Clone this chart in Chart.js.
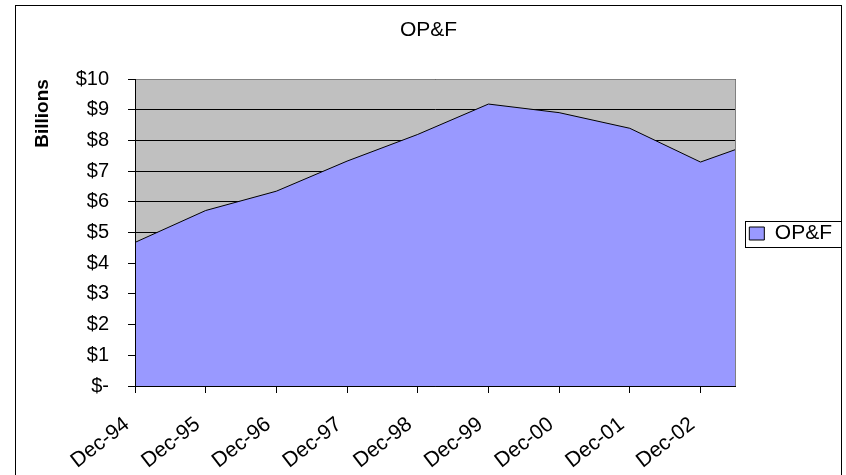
<!DOCTYPE html>
<html><head><meta charset="utf-8">
<script src="https://cdn.jsdelivr.net/npm/chart.js@4"></script>
<style>html,body{margin:0;padding:0;background:#fff;}#wrap{width:846px;height:475px;position:relative;}</style>
</head><body><div id="wrap"><canvas id="c"></canvas></div>
<script>
const chartTitle = 'OP&F';
const seriesName = 'OP&F';
const dateLabels = ['Dec-94','Dec-95','Dec-96','Dec-97','Dec-98','Dec-99','Dec-00','Dec-01','Dec-02','Jun-03'];
const values = [4.68, 5.72, 6.35, 7.33, 8.20, 9.19, 8.91, 8.40, 7.30, 7.71];
const xTickLabels = ['Dec-94','Dec-95','Dec-96','Dec-97','Dec-98','Dec-99','Dec-00','Dec-01','Dec-02'];
const yTickValues = [0,1,2,3,4,5,6,7,8,9,10];
const yTickLabels = ['$-','$1','$2','$3','$4','$5','$6','$7','$8','$9','$10'];
const yAxisTitle = 'Billions';

const MONTHS = ['Jan','Feb','Mar','Apr','May','Jun','Jul','Aug','Sep','Oct','Nov','Dec'];
function monthIndex(lbl){
  const parts = lbl.split('-');
  let yr = parseInt(parts[1], 10);
  yr += yr < 50 ? 2000 : 1900;
  return yr * 12 + MONTHS.indexOf(parts[0]);
}
const base = monthIndex(dateLabels[0]);
const points = dateLabels.map((l, i) => ({x: monthIndex(l) - base, y: values[i]}));
const xTickPos = xTickLabels.map(l => monthIndex(l) - base);

const FONT = 'Liberation Sans, Arial, sans-serif';

const decor = {
  id: 'decor',
  afterLayout(chart) {
    const lg = chart.legend;
    if (lg) { lg.top -= 4; lg.bottom -= 4; }
  },
  beforeDraw(chart) {
    const {ctx, chartArea: a} = chart;
    ctx.save();
    ctx.fillStyle = '#C0C0C0';
    ctx.fillRect(a.left, a.top, a.right - a.left, a.bottom - a.top);
    ctx.restore();
  },
  afterDraw(chart) {
    const {ctx, chartArea: a} = chart;
    ctx.save();
    ctx.lineWidth = 1;
    ctx.strokeStyle = '#808080';
    ctx.beginPath();
    ctx.moveTo(Math.round(a.left) + 0.5, Math.round(a.top) + 0.5);
    ctx.lineTo(Math.round(a.right) - 0.5, Math.round(a.top) + 0.5);
    ctx.lineTo(Math.round(a.right) - 0.5, Math.round(a.bottom) + 0.5);
    ctx.stroke();
    ctx.strokeStyle = '#000';
    ctx.beginPath();
    ctx.moveTo(Math.round(a.left) + 0.5, Math.round(a.top));
    ctx.lineTo(Math.round(a.left) + 0.5, Math.round(a.bottom) + 0.5);
    ctx.lineTo(Math.round(a.right), Math.round(a.bottom) + 0.5);
    ctx.stroke();
    ctx.strokeRect(15.5, 5.5, 826, 500);
    const lg = chart.legend;
    if (lg && lg.legendHitBoxes && lg.legendHitBoxes.length) {
      const h = lg.legendHitBoxes[0];
      const cy = h.top + h.height / 2;
      const l = Math.round(h.left) - 3.5;
      const r = Math.round(h.left + h.width) + 9.5;
      ctx.strokeRect(l, Math.round(cy) - 12.5, r - l, 26);
    }
    ctx.restore();
  }
};

new Chart(document.getElementById('c'), {
  type: 'line',
  data: {
    datasets: [{
      label: seriesName,
      data: points,
      backgroundColor: '#9999FF',
      borderColor: '#000000',
      borderWidth: 1,
      fill: 'origin',
      pointRadius: 0,
      tension: 0
    }]
  },
  options: {
    responsive: true,
    maintainAspectRatio: false,
    animation: false,
    events: [],
    layout: { padding: { left: 15, top: 0, right: 4, bottom: 0 } },
    plugins: {
      title: {
        display: true, text: chartTitle, color: '#000',
        font: { family: FONT, size: 21, weight: 'normal' },
        padding: { top: 18, bottom: 36 }
      },
      legend: {
        display: true, position: 'right',
        labels: {
          color: '#000', boxWidth: 15, boxHeight: 13, padding: 13.5,
          font: { family: FONT, size: 21 }
        }
      },
      tooltip: { enabled: false }
    },
    scales: {
      x: {
        type: 'linear',
        min: 0,
        max: points[points.length - 1].x,
        afterBuildTicks(s) { s.ticks = xTickPos.map(v => ({ value: v })); },
        afterFit(s) { s.height = 89; },
        border: { display: false },
        grid: { display: true, drawOnChartArea: false, drawTicks: true, tickLength: 7, color: '#000', tickColor: '#000' },
        ticks: {
          autoSkip: false, maxRotation: 38, minRotation: 38, padding: 19, labelOffset: -8,
          color: '#000', font: { family: FONT, size: 21 },
          callback: (v, i) => xTickLabels[i]
        }
      },
      y: {
        min: 0, max: 10,
        afterBuildTicks(s) { s.ticks = yTickValues.map(v => ({ value: v })); },
        afterFit(s) { s.width = 120; },
        border: { display: false },
        grid: { display: true, drawOnChartArea: true, drawTicks: true, tickLength: 7, color: '#000', tickColor: '#000', lineWidth: 1 },
        ticks: {
          padding: 19, color: '#000', font: { family: FONT, size: 20 },
          callback: (v, i) => yTickLabels[i]
        },
        title: {
          display: true, text: yAxisTitle, align: 'end', color: '#000',
          font: { family: FONT, size: 19, weight: 'bold' },
          padding: { top: 16, bottom: 0 }
        }
      }
    }
  },
  plugins: [decor]
});
</script></body></html>
